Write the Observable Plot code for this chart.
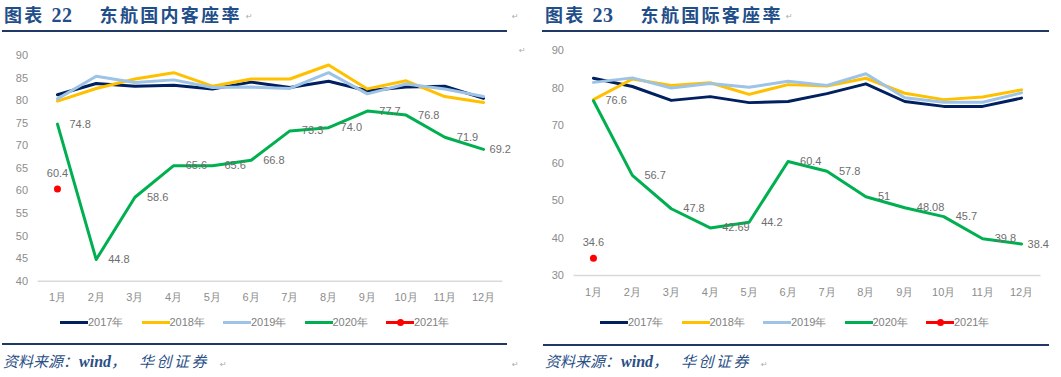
<!DOCTYPE html>
<html><head><meta charset="utf-8">
<script src="https://cdn.jsdelivr.net/npm/d3@7"></script>
<script src="https://cdn.jsdelivr.net/npm/@observablehq/plot@0.6"></script>
<style>
body{margin:0;background:#fff;width:1061px;height:377px;position:relative;overflow:hidden;font-family:"Liberation Sans",Arial,sans-serif;}
.abs{position:absolute;white-space:nowrap;}
.title{font-family:"Liberation Serif","Noto Sans CJK SC",serif;font-weight:bold;color:#1f4e89;font-size:18px;line-height:22px;letter-spacing:2.3px;}
.title .num{font-size:20px;letter-spacing:0.5px;}
.rule{position:absolute;height:2px;background:#1f3864;}
.src{font-family:"Liberation Serif","Noto Sans CJK SC",serif;font-style:italic;color:#2a4f86;font-size:15px;line-height:20px;}
.src .w{font-size:16px;font-weight:bold;margin-left:1px;}
.src .b{letter-spacing:2.5px;margin-left:13px;}
.ret{position:absolute;font-size:8px;color:#aaa;font-family:"DejaVu Sans",sans-serif;}
.legend{position:absolute;display:flex;font-size:11px;line-height:14px;color:#7f7f7f;}
.legend .item{width:81.5px;display:flex;align-items:center;}
.legend .sw{width:28px;height:3px;position:relative;}
.legend .sw .dt{position:absolute;left:10.5px;top:-2px;width:7px;height:7px;border-radius:50%;background:#ff0000;}
.chart{position:absolute;}
</style></head>
<body>
<div class="abs title" style="left:4px;top:4px;">图表&nbsp;<span class="num">22</span>&nbsp;&nbsp;&nbsp;&nbsp;东航国内客座率</div>
<div class="ret" style="left:246px;top:12px;">↵</div>
<div class="ret" style="left:512px;top:12px;">↵</div>
<div class="rule" style="left:2px;top:30px;width:505px;"></div>
<div class="ret" style="left:519px;top:46px;">↵</div>

<div class="abs title" style="left:545px;top:4px;">图表&nbsp;<span class="num">23</span>&nbsp;&nbsp;&nbsp;&nbsp;东航国际客座率</div>
<div class="ret" style="left:786px;top:12px;">↵</div>
<div class="rule" style="left:542px;top:30px;width:507px;"></div>

<div id="left" class="chart" style="left:0;top:40px;"></div>
<div id="right" class="chart" style="left:530px;top:40px;"></div>

<div id="legL" class="legend" style="left:60px;top:315px;"></div>
<div id="legR" class="legend" style="left:600px;top:315px;"></div>

<div class="rule" style="left:2px;top:343px;width:505px;"></div>
<div class="rule" style="left:543px;top:344px;width:506px;"></div>
<div class="abs src" style="left:3px;top:352px;">资料来源：<span class="w">wind</span>，<span class="b">华创证券</span></div>
<div class="ret" style="left:220px;top:360px;">↵</div>
<div class="ret" style="left:512px;top:360px;">↵</div>
<div class="abs src" style="left:545px;top:352px;">资料来源：<span class="w">wind</span>，<span class="b">华创证券</span></div>
<div class="ret" style="left:761px;top:360px;">↵</div>

<script>
// ---- data ----
const months = ["1月","2月","3月","4月","5月","6月","7月","8月","9月","10月","11月","12月"];
const years = ["2017年","2018年","2019年","2020年","2021年"];
const colors = ["#002060","#FFC000","#9DC3E6","#00B050","#FF0000"];

// 东航国内客座率
const dom2017 = [81.3, 83.8, 83.2, 83.4, 82.6, 84.1, 82.9, 84.3, 82.2, 83.0, 83.2, 80.5];
const dom2018 = [79.9, 82.7, 84.8, 86.2, 83.2, 84.8, 84.8, 87.9, 82.6, 84.4, 80.9, 79.6];
const dom2019 = [80.4, 85.4, 84.0, 84.6, 82.9, 83.0, 82.7, 86.2, 81.5, 83.7, 82.6, 80.9];
const dom2020 = [74.8, 44.8, 58.6, 65.6, 65.6, 66.8, 73.3, 74.0, 77.7, 76.8, 71.9, 69.2];
const dom2021 = [60.4];
const domTicks = [40, 45, 50, 55, 60, 65, 70, 75, 80, 85, 90];

// 东航国际客座率
const intl2017 = [82.6, 80.4, 76.7, 77.7, 76.1, 76.4, 78.5, 81.1, 76.4, 75.1, 75.1, 77.3];
const intl2018 = [76.9, 82.4, 80.7, 81.4, 78.3, 80.9, 80.5, 82.6, 78.6, 76.9, 77.6, 79.5];
const intl2019 = [81.5, 82.7, 80.0, 81.2, 80.2, 81.8, 80.7, 83.8, 77.4, 76.2, 76.2, 78.7];
const intl2020 = [76.6, 56.7, 47.8, 42.69, 44.2, 60.4, 57.8, 51, 48.08, 45.7, 39.8, 38.4];
const intl2021 = [34.6];
const intlTicks = [30, 40, 50, 60, 70, 80, 90];

function rowsOf(vals){ return vals.map((v,i)=>({m:i+1, v})); }

function makeChart(o){
  const s = [o.s2017, o.s2018, o.s2019, o.s2020].map(rowsOf);
  const lab = rowsOf(o.s2020);
  const r21 = rowsOf(o.s2021);
  const marks = [
    Plot.ruleY([o.ticks[0]], {stroke:"#d9d9d9", strokeWidth:1.5}),
    Plot.axisY({ticks:o.ticks, tickSize:0, tickPadding:10, fill:"#8c8c8c", fontSize:11, label:null}),
    Plot.axisX({ticks:d3.range(1,13), tickFormat:d=>months[d-1], tickSize:0, tickPadding:o.xPad, fill:"#8c8c8c", fontSize:11, label:null}),
  ];
  s.forEach((rows,k)=>marks.push(Plot.line(rows,{x:"m", y:"v", stroke:colors[k], strokeWidth:3})));
  marks.push(Plot.text(lab.filter(d=>d.m<12),{x:"m", y:"v", text:d=>o.fmt(d.v), textAnchor:"start", dx:12, fill:"#6e6e6e", fontSize:11}));
  marks.push(Plot.text(lab.filter(d=>d.m===12),{x:"m", y:"v", text:d=>o.fmt(d.v), textAnchor:"start", dx:6, fill:"#6e6e6e", fontSize:11}));
  marks.push(Plot.dot(r21,{x:"m", y:"v", r:3.5, fill:colors[4], stroke:"none"}));
  marks.push(Plot.text(r21,{x:"m", y:"v", text:d=>o.fmt(d.v), dy:-16, fill:"#6e6e6e", fontSize:11}));
  return Plot.plot({
    width:o.width, height:o.height,
    marginLeft:o.ml, marginRight:o.mr, marginTop:o.mt, marginBottom:o.mb,
    style:{fontFamily:"'Liberation Sans', Arial, sans-serif", fontSize:"11px", background:"transparent", overflow:"visible"},
    x:{domain:[0.5,12.5], axis:null},
    y:{domain:[o.ticks[0], o.ticks[o.ticks.length-1]], axis:null},
    marks
  });
}

document.getElementById("left").append(makeChart({
  s2017:dom2017, s2018:dom2018, s2019:dom2019, s2020:dom2020, s2021:dom2021,
  ticks:domTicks, fmt:v=>v.toFixed(1),
  width:520, height:275, ml:37.6, mr:17.6, mt:15, mb:34.3, xPad:12
}));
document.getElementById("right").append(makeChart({
  s2017:intl2017, s2018:intl2018, s2019:intl2019, s2020:intl2020, s2021:intl2021,
  ticks:intlTicks, fmt:v=>String(v),
  width:531, height:270, ml:43.5, mr:20.5, mt:10, mb:35, xPad:13
}));

function legend(id){
  const el = document.getElementById(id);
  years.forEach((y,k)=>{
    const it = document.createElement("div"); it.className="item";
    const sw = document.createElement("div"); sw.className="sw"; sw.style.background=colors[k];
    if(k===4){ const dt=document.createElement("div"); dt.className="dt"; sw.append(dt); }
    const t = document.createElement("span"); t.textContent=y;
    it.append(sw,t); el.append(it);
  });
}
legend("legL"); legend("legR");
</script>
</body></html>
